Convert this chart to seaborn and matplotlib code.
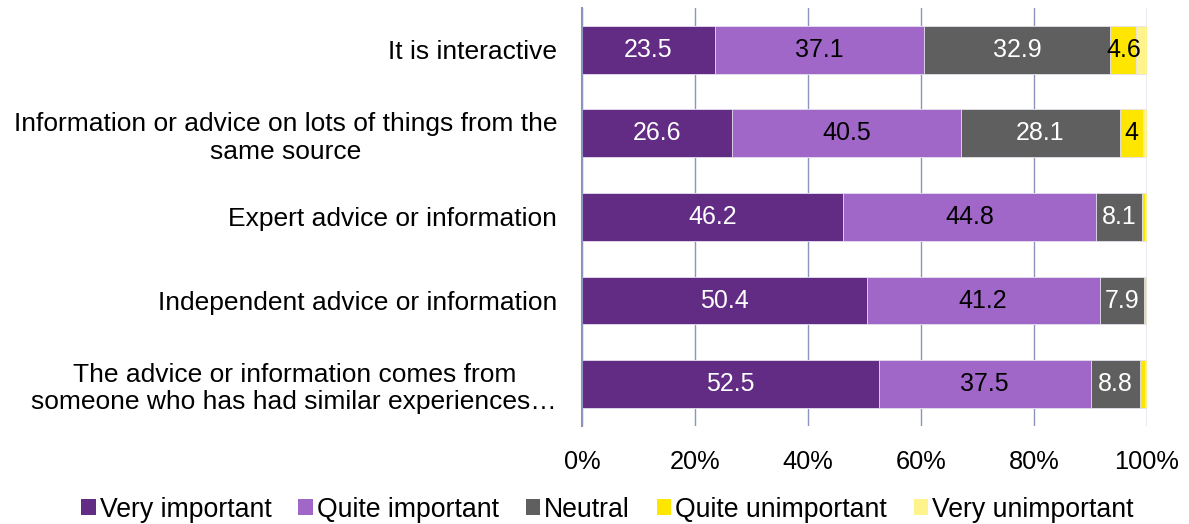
import numpy as np
import pandas as pd
import matplotlib
matplotlib.use("Agg")
import matplotlib.pyplot as plt
import seaborn as sns
from matplotlib.patches import Patch

sns.set_theme(style="white")
plt.rcParams["font.family"] = ["Liberation Sans", "DejaVu Sans"]
plt.rcParams["text.color"] = "black"

categories = [
    "It is interactive",
    "Information or advice on lots of things from the\nsame source",
    "Expert advice or information",
    "Independent advice or information",
    "The advice or information comes from\nsomeone who has had similar experiences\u2026",
]
series = ["Very important", "Quite important", "Neutral", "Quite unimportant", "Very unimportant"]
very_important = [23.5, 26.6, 46.2, 50.4, 52.5]
quite_important = [37.1, 40.5, 44.8, 41.2, 37.5]
neutral = [32.9, 28.1, 8.1, 7.9, 8.8]
quite_unimportant = [4.6, 4.0, 0.6, 0.3, 0.9]
very_unimportant = [1.9, 0.8, 0.3, 0.2, 0.3]
tick_labels = ["0%", "20%", "40%", "60%", "80%", "100%"]

colors = ["#622C84", "#A066C8", "#5F5F5F", "#FFE600", "#FFF48C"]
label_colors = ["white", "black", "white", "black", "black"]
min_label = [0, 0, 0, 3, 100]

values = np.array([very_important, quite_important, neutral,
                   quite_unimportant, very_unimportant])
cum = np.cumsum(values, axis=0)

fig = plt.figure(figsize=(11.89, 5.24), dpi=100)
ax = fig.add_axes([0.4895, 0.187, 0.4752, 0.798])

# vertical gridlines behind the bars
ax.set_axisbelow(True)
ax.xaxis.grid(True, color="#8C94BE", linewidth=1.0)
ax.yaxis.grid(False)

# stacked bars: draw cumulative totals from the outermost layer inwards
for i in range(len(series) - 1, -1, -1):
    df = pd.DataFrame({"cat": categories, "val": cum[i]})
    sns.barplot(data=df, x="val", y="cat", orient="h", color=colors[i],
                width=0.57, edgecolor="#E6E3F0", linewidth=0.6,
                saturation=1, ax=ax)

for i in range(len(series)):
    for j in range(len(categories)):
        v = values[i, j]
        if v >= min_label[i]:
            center = cum[i, j] - v / 2
            ax.text(center, j, f"{v:g}", ha="center", va="center",
                    color=label_colors[i], fontsize=18)

ax.set_xlim(0, 100)
ax.set_ylim(4.5, -0.5)
ax.set_xticks([0, 20, 40, 60, 80, 100])
ax.set_xticklabels(tick_labels)
ax.set_xlabel("")
ax.set_ylabel("")
ax.tick_params(axis="x", length=0, pad=17, labelsize=18.3, colors="black")
ax.tick_params(axis="y", length=0, pad=18, labelsize=19, colors="black")
for lbl in ax.get_yticklabels():
    lbl.set_multialignment("center")

for side in ["top", "right", "bottom"]:
    ax.spines[side].set_visible(False)
ax.spines["left"].set_color("#8C94BE")
ax.spines["left"].set_linewidth(1.5)

handles = [Patch(facecolor=c, edgecolor="none") for c in colors]
fig.legend(handles, series, loc="center", bbox_to_anchor=(0.511, 0.027),
           ncol=5, frameon=False, fontsize=19.2, labelcolor="black",
           handlelength=0.55, handleheight=0.55, handletextpad=0.15,
           columnspacing=1.0)

fig.savefig("out.png", dpi=100)
